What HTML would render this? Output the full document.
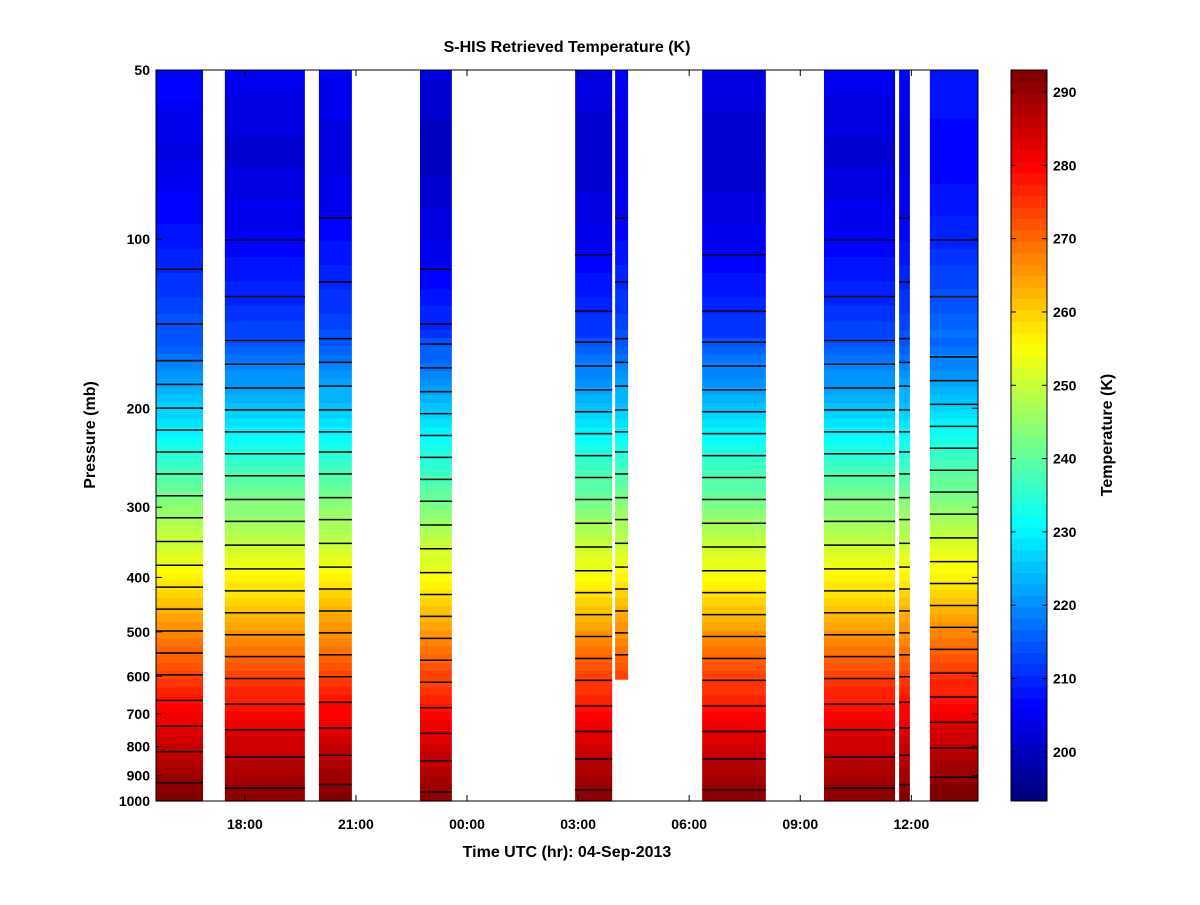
<!DOCTYPE html>
<html><head><meta charset="utf-8"><style>
body{margin:0;background:#fff;}
svg text{font-family:"Liberation Sans",sans-serif;font-weight:bold;}
</style></head><body>
<svg id="chart" width="1200" height="900" xmlns="http://www.w3.org/2000/svg">
<rect width="1200" height="900" fill="#fff"/>
<text x="567" y="52" font-size="16" text-anchor="middle">S-HIS Retrieved Temperature (K)</text>
<g id="plot"></g>
<g id="contours"></g>
<rect x="156" y="70" width="822" height="731" fill="none" stroke="#000"/>
<g id="axes"></g>
<text x="567" y="857" font-size="16" text-anchor="middle">Time UTC (hr): 04-Sep-2013</text>
<text transform="translate(95,435) rotate(-90)" font-size="16" text-anchor="middle">Pressure (mb)</text>
<g id="cbar"></g>
<rect x="1011" y="70" width="36" height="731" fill="none" stroke="#000"/>
<text transform="translate(1112,435) rotate(-90)" font-size="16" text-anchor="middle">Temperature (K)</text>
</svg>
<script>
const pLevels=[50,70,100,150,200,250,300,400,500,600,700,800,900,1000];
const tProfile=[206,203,207,214,226,236,244,256,266,274,280,285,289,292];
const segments=[[15.6,16.87],[17.46,19.62],[20.0,20.89],[22.73,23.59],[26.92,27.92],[28.0,28.35],[30.35,32.07],[33.64,35.56],[35.67,35.96],[36.5,37.8]];
const segBottom=[1000,1000,1000,1000,1000,600,1000,1000,1000,1000];
const segOffset=[1,-1,0,-3,-2,0,-2,-1,0,3];
const yTicks=[50,100,200,300,400,500,600,700,800,900,1000];
const xTickHours=[18,21,24,27,30,33,36];
const xTickLabels=["18:00","21:00","00:00","03:00","06:00","09:00","12:00"];
const cTicks=[200,210,220,230,240,250,260,270,280,290];
const contourLevels=[];for(let c=198;c<=292;c+=4)contourLevels.push(c);

const X0=156,X1=978,Y0=70,Y1=801,H0=15.6,H1=37.8,TMIN=193.3,TMAX=293;
const xs=h=>X0+(h-H0)/(H1-H0)*(X1-X0);
const ys=p=>Y0+Math.log10(p/50)/Math.log10(20)*(Y1-Y0);
const ns="http://www.w3.org/2000/svg";
function mk(tag,attrs,parent){const e=document.createElementNS(ns,tag);for(const k in attrs)e.setAttribute(k,attrs[k]);parent.appendChild(e);return e;}
function jet(v){v=Math.max(0,Math.min(1,v));v=Math.floor(v*63.999)/63;
 const f=x=>Math.max(0,Math.min(1,1.5-Math.abs(4*v-x)));
 return `rgb(${Math.round(255*f(3))},${Math.round(255*f(2))},${Math.round(255*f(1))})`;}
function tAt(p){for(let i=0;i<pLevels.length-1;i++){if(p<=pLevels[i+1]){const a=Math.log(pLevels[i]),b=Math.log(pLevels[i+1]),t=(Math.log(p)-a)/(b-a);return tProfile[i]+t*(tProfile[i+1]-tProfile[i]);}}return tProfile[tProfile.length-1];}
function pForT(T,off){
 let prev=null;const N=400;
 for(let i=0;i<=N;i++){const p=50*Math.pow(20,i/N);const w=p<150?1:0.3;const v=tAt(p)+off*w;if(prev&&(prev.v-T)*(v-T)<=0&&p>85)return p;prev={p,v};}return null;}
const plot=document.getElementById('plot'),cont=document.getElementById('contours');
const NB=90;
segments.forEach((s,si)=>{
 const off=segOffset[si];
 for(let i=0;i<NB;i++){
  const p0=50*Math.pow(20,i/NB),p1=50*Math.pow(20,(i+1)/NB),pm=Math.sqrt(p0*p1);
  if(pm>segBottom[si])continue;
  const w=pm<150?1:0.3;
  const T=tAt(pm)+off*w;
  const r=mk('rect',{x:xs(s[0]),y:ys(p0),width:xs(s[1])-xs(s[0]),height:ys(p1)-ys(p0)+0.6,fill:jet((T-TMIN)/(TMAX-TMIN))},plot);
  
  
 }
 contourLevels.forEach(c=>{
  const p=pForT(c,off);if(!p||p>segBottom[si])return;
  const y=ys(p);
  const l=mk('line',{x1:xs(s[0]),x2:xs(s[1]),y1:y,y2:y,stroke:'#000','stroke-width':1.5},cont);
  
  
 });
});
const axes=document.getElementById('axes');
yTicks.forEach(p=>{const y=ys(p);
 mk('line',{x1:X0,x2:X0+6,y1:y,y2:y,stroke:'#000'},axes);mk('line',{x1:X1,x2:X1-6,y1:y,y2:y,stroke:'#000'},axes);
 const t=mk('text',{x:150,y:y+5,'font-size':14,'text-anchor':'end'},axes);t.textContent=p;
 
 });
xTickHours.forEach((h,i)=>{const x=xs(h);
 mk('line',{x1:x,x2:x,y1:Y1,y2:Y1-6,stroke:'#000'},axes);mk('line',{x1:x,x2:x,y1:Y0,y2:Y0+6,stroke:'#000'},axes);
 const t=mk('text',{x:x,y:829,'font-size':14,'text-anchor':'middle'},axes);t.textContent=xTickLabels[i];
 
 });
const cb=document.getElementById('cbar');
const cy=T=>Y1-(T-TMIN)/(TMAX-TMIN)*(Y1-Y0);
for(let i=0;i<64;i++){const a=TMIN+i*(TMAX-TMIN)/64,b=TMIN+(i+1)*(TMAX-TMIN)/64;
 const r=mk('rect',{x:1011,y:cy(b),width:36,height:cy(a)-cy(b)+0.5,fill:jet((i+0.5)/64)},cb);
 
 }
cTicks.forEach(T=>{const y=cy(T);
 mk('line',{x1:1011,x2:1016,y1:y,y2:y,stroke:'#000'},cb);mk('line',{x1:1047,x2:1042,y1:y,y2:y,stroke:'#000'},cb);
 const t=mk('text',{x:1053,y:y+5,'font-size':14},cb);t.textContent=T;
 
 });
</script>
</body></html>
